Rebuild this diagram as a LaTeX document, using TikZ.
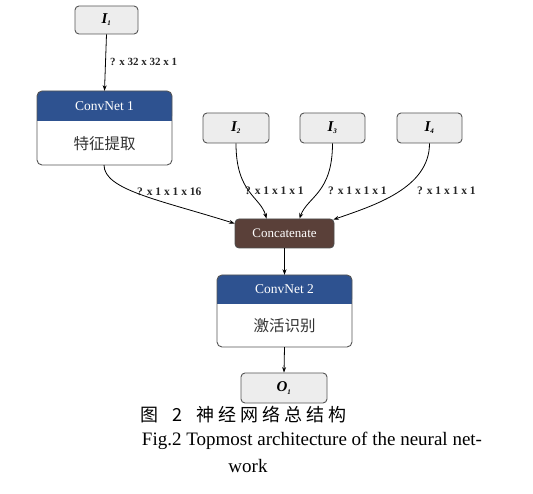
\documentclass[tikz,border=0pt]{standalone}
\usepackage{fontspec}
\setmainfont{Liberation Serif}
\newfontfamily\cjk{Noto Sans CJK SC}
\usetikzlibrary{arrows.meta,positioning,calc}
\definecolor{hdrblue}{HTML}{2E5290}
\definecolor{catbrown}{HTML}{5A4039}
\definecolor{boxgray}{HTML}{EDEDED}
\definecolor{edgegray}{HTML}{555555}
\begin{document}
\begin{tikzpicture}[x=1pt,y=-1pt,
  inbox/.style={draw=edgegray,line width=0.9pt,fill=boxgray,rounded corners=4pt,minimum width=64pt,minimum height=29pt,inner sep=0pt,font=\fontsize{15}{15}\selectfont\bfseries\itshape},
  netbody/.style={draw=edgegray,line width=0.9pt,fill=white,rounded corners=5pt},
  hdr/.style={fill=hdrblue,rounded corners=5pt},
  conn/.style={line width=0.8pt,-{Stealth[length=5.5pt,width=4pt]}},
  lbl/.style={font=\fontsize{11}{11}\selectfont\bfseries,text=black!85,inner sep=1pt},
  hdrtxt/.style={text=white,font=\fontsize{13.5}{14}\selectfont},
  cjkbody/.style={font=\cjk\fontsize{15.5}{16}\selectfont,text=black!80},
]
\useasboundingbox (0,0) rectangle (533,494);

% Input I1
\node[inbox,minimum width=63pt,minimum height=28pt] (i1) at (106.5,20) {I\textsubscript{\scriptsize 1}};

% ConvNet 1
\fill[hdr] (37,91) rectangle (172,121);
\fill[hdrblue] (37,110) rectangle (172,121);
\draw[netbody,fill=none] (37,91) rectangle (172,165);
\node[hdrtxt] (c1h) at (104.5,106.5) {ConvNet 1};
\node[cjkbody] (c1b) at (104.5,144) {特征提取};
\node[inner sep=0pt,minimum width=135pt,minimum height=74pt] (c1) at (104.5,128) {};

% Inputs I2..I4
\node[inbox,minimum width=66pt,minimum height=30pt] (i2) at (236,128) {I\textsubscript{\scriptsize 2}};
\node[inbox,minimum width=65pt,minimum height=30pt] (i3) at (332.5,128) {I\textsubscript{\scriptsize 3}};
\node[inbox,minimum width=65pt,minimum height=30pt] (i4) at (429.5,128) {I\textsubscript{\scriptsize 4}};

% Concatenate
\node[draw=black!70,line width=0.8pt,fill=catbrown,rounded corners=4pt,minimum width=99pt,minimum height=29pt,inner sep=0pt,text=white,font=\fontsize{13}{13}\selectfont] (cat) at (284.5,233.5) {Concatenate};

% ConvNet 2
\fill[hdr] (217,275) rectangle (352,304);
\fill[hdrblue] (217,294) rectangle (352,304);
\draw[netbody,fill=none] (217,275) rectangle (352,347);
\node[hdrtxt] (c2h) at (284.5,289.5) {ConvNet 2};
\node[cjkbody] (c2b) at (284.5,326) {激活识别};
\node[inner sep=0pt,minimum width=135pt,minimum height=72pt] (c2) at (284.5,311) {};

% Output
\node[inbox,minimum width=86pt,minimum height=30pt] (o1) at (284,388) {O\textsubscript{\scriptsize 1}};

% Connectors
\draw[conn] (i1.south) -- (c1.north);
\node[lbl,anchor=west] (l0) at (109,62) {? x 32 x 32 x 1};

\draw[conn] (104,165) .. controls (104,190) and (160,200) .. ($(cat.west)+(0,-10)$);
\draw[conn] (i2.south) .. controls +(0,50) and +(-6,-22) .. ($(cat.north)+(-18,0)$);
\draw[conn] (i3.south) .. controls +(0,50) and +(8,-22) .. ($(cat.north)+(15,0)$);
\draw[conn] (i4.south) .. controls +(0,45) and +(40,-14) .. ($(cat.north east)+(-1,1)$);

\node[lbl,font=\fontsize{11.5}{12}\selectfont\bfseries,anchor=west] (l1) at (136,192) {? x 1 x 1 x 16};
\node[lbl,font=\fontsize{11.5}{12}\selectfont\bfseries,anchor=west] (l2) at (244,191) {? x 1 x 1 x 1};
\node[lbl,font=\fontsize{11.5}{12}\selectfont\bfseries,anchor=west] (l3) at (327,191) {? x 1 x 1 x 1};
\node[lbl,font=\fontsize{11.5}{12}\selectfont\bfseries,anchor=west] (l4) at (416,191) {? x 1 x 1 x 1};

\draw[conn] (cat.south) -- (c2.north);
\draw[conn] (c2.south) -- (o1.north);

% Caption
\node[font=\cjk\fontsize{18}{19}\selectfont,anchor=west,inner sep=0pt] (cap1) at (140,415) {图\hspace{14pt}2\hspace{14pt}神\hspace{4pt}经\hspace{4pt}网\hspace{4pt}络\hspace{4pt}总\hspace{4pt}结\hspace{4pt}构};
\node[font=\fontsize{19}{20}\selectfont] (cap2) at (312,441) {Fig.2 Topmost architecture of the neural net-};
\node[font=\fontsize{19}{20}\selectfont] (cap3) at (248,466) {work};
\end{tikzpicture}
\end{document}
